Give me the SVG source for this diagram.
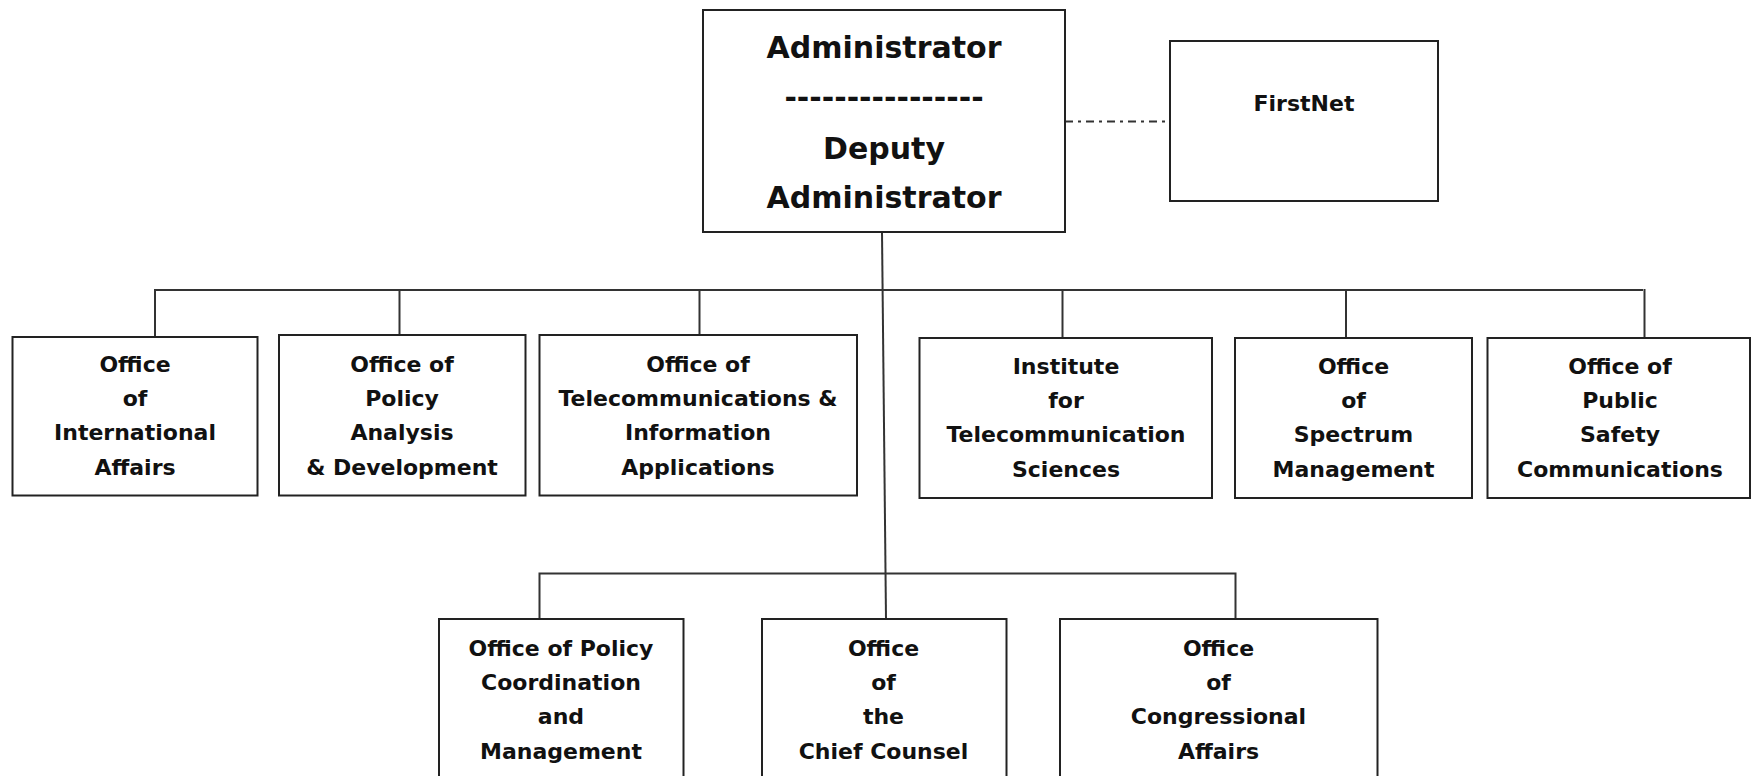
<svg xmlns="http://www.w3.org/2000/svg" width="1752" height="776" viewBox="0 0 1752 776">
<style>
.box{fill:#fff;stroke:#222;stroke-width:2}
.ln{fill:none;stroke:#333;stroke-width:2}
.t{font-family:"DejaVu Sans","Liberation Sans",sans-serif;font-weight:bold;font-size:22px;fill:#111;text-anchor:middle}
.big{font-size:30px}
</style>
<rect width="1752" height="776" fill="#fff"/>
<g id="connectors">
<path class="ln" d="M882 232 L886 619"/>
<path class="ln" d="M155 337 V290 H1643"/>
<path class="ln" d="M399.5 290 V335"/>
<path class="ln" d="M699.5 290 V335"/>
<path class="ln" d="M1062.5 290 V338"/>
<path class="ln" d="M1346 290 V338"/>
<path class="ln" d="M1644.5 289 V338"/>
<path class="ln" d="M539.5 619 V573.5 H1235.5 V619"/>
<path class="ln" d="M1065 121.5 H1170" stroke="#111" stroke-dasharray="8 5 3 5"/>
</g>
<g id="admin">
<rect class="box" x="703" y="10" width="362" height="222"/>
<text class="t big" x="884" y="58">Administrator</text>
<text class="t big" x="884" y="108">----------------</text>
<text class="t big" x="884" y="159">Deputy</text>
<text class="t big" x="884" y="208">Administrator</text>
</g>
<g id="firstnet">
<rect class="box" x="1170" y="41" width="268" height="160"/>
<text class="t" x="1304" y="111">FirstNet</text>
</g>
<g id="intl">
<rect class="box" x="12.5" y="337" width="245" height="158.5"/>
<text class="t" x="135" y="371.5">Office</text>
<text class="t" x="135" y="405.5">of</text>
<text class="t" x="135" y="440">International</text>
<text class="t" x="135" y="475">Affairs</text>
</g>
<g id="policy">
<rect class="box" x="279" y="335" width="246.5" height="160.5"/>
<text class="t" x="402" y="371.5">Office of</text>
<text class="t" x="402" y="405.5">Policy</text>
<text class="t" x="402" y="440">Analysis</text>
<text class="t" x="402" y="475">&amp; Development</text>
</g>
<g id="ntia">
<rect class="box" x="539.5" y="335" width="317.5" height="160.5"/>
<text class="t" x="698" y="371.5">Office of</text>
<text class="t" x="698" y="405.5">Telecommunications &amp;</text>
<text class="t" x="698" y="440">Information</text>
<text class="t" x="698" y="475">Applications</text>
</g>
<g id="its">
<rect class="box" x="919.5" y="338" width="292.5" height="160"/>
<text class="t" x="1066" y="373.5">Institute</text>
<text class="t" x="1066" y="407.5">for</text>
<text class="t" x="1066" y="442">Telecommunication</text>
<text class="t" x="1066" y="477">Sciences</text>
</g>
<g id="spectrum">
<rect class="box" x="1235" y="338" width="237" height="160"/>
<text class="t" x="1353.5" y="373.5">Office</text>
<text class="t" x="1353.5" y="407.5">of</text>
<text class="t" x="1353.5" y="442">Spectrum</text>
<text class="t" x="1353.5" y="477">Management</text>
</g>
<g id="psc">
<rect class="box" x="1487.5" y="338" width="262.5" height="160"/>
<text class="t" x="1620" y="373.5">Office of</text>
<text class="t" x="1620" y="407.5">Public</text>
<text class="t" x="1620" y="442">Safety</text>
<text class="t" x="1620" y="477">Communications</text>
</g>
<g id="coord">
<rect class="box" x="439" y="619" width="244.5" height="180"/>
<text class="t" x="561" y="655.5">Office of Policy</text>
<text class="t" x="561" y="689.5">Coordination</text>
<text class="t" x="561" y="724">and</text>
<text class="t" x="561" y="759">Management</text>
</g>
<g id="counsel">
<rect class="box" x="762" y="619" width="244.5" height="180"/>
<text class="t" x="883.5" y="655.5">Office</text>
<text class="t" x="883.5" y="689.5">of</text>
<text class="t" x="883.5" y="724">the</text>
<text class="t" x="883.5" y="759">Chief Counsel</text>
</g>
<g id="congress">
<rect class="box" x="1060" y="619" width="317.5" height="180"/>
<text class="t" x="1218.5" y="655.5">Office</text>
<text class="t" x="1218.5" y="689.5">of</text>
<text class="t" x="1218.5" y="724">Congressional</text>
<text class="t" x="1218.5" y="759">Affairs</text>
</g>
</svg>
